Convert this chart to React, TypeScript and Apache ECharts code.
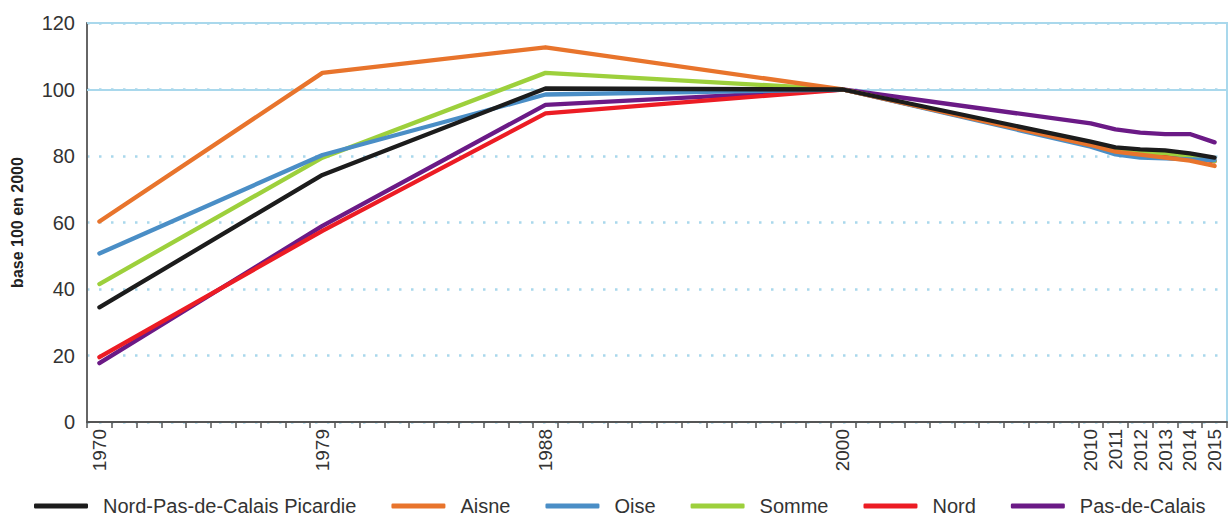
import React, { useEffect, useRef } from "react";
import * as echarts from "echarts";

const FIRST_YEAR = 1970;
const LAST_YEAR = 2015;
const labelYears = ["1970", "1979", "1988", "2000", "2010", "2011", "2012", "2013", "2014", "2015"];
const years = [1970, 1979, 1988, 2000, 2010, 2011, 2012, 2013, 2014, 2015];

const seriesNames = ["Nord-Pas-de-Calais Picardie", "Aisne", "Oise", "Somme", "Nord", "Pas-de-Calais"];
const seriesColors = ["#1c1c1c", "#e8742c", "#4a8ec6", "#9dd03c", "#ec1c24", "#6b1a86"];

const npdcp = [34.5, 74.3, 100.3, 100, 84.3, 82.6, 82, 81.7, 80.8, 79.5];
const aisne = [60.3, 105, 112.7, 100, 83.3, 81.3, 80.4, 79.5, 78.6, 77];
const oise = [50.7, 80.3, 98.5, 100, 82.8, 80.5, 79.5, 79.3, 79, 78.8];
const somme = [41.5, 79.5, 105, 100, 83.6, 81.6, 81, 80.9, 80, 78.5];
const nord = [19.5, 57.5, 92.8, 100, 83.4, 81.4, 80.6, 80.2, 79.6, 78.4];
const pasDeCalais = [17.7, 59, 95.4, 100, 89.8, 88, 87, 86.6, 86.6, 84.1];

const seriesValues = [npdcp, aisne, oise, somme, nord, pasDeCalais];

const yTicks = { min: 0, max: 120, interval: 20 };
const solidGridValues = [100, 120];

const FONT = "'Liberation Sans', Arial, Helvetica, sans-serif";

export default function App() {
  const ref = useRef<HTMLDivElement>(null);

  useEffect(() => {
    if (!ref.current) return;
    const chart = echarts.init(ref.current, undefined, { renderer: "svg" });
    const categories: string[] = [];
    for (let y = FIRST_YEAR; y <= LAST_YEAR; y++) categories.push(String(y));

    const series = seriesNames.map((name, i) => ({
      name,
      type: "line",
      data: years.map((yr, j) => [String(yr), seriesValues[i][j]]),
      showSymbol: false,
      symbol: "none",
      lineStyle: { width: 4.3, color: seriesColors[i], cap: "round", join: "round" },
      itemStyle: { color: seriesColors[i] },
      z: 10 - i,
      silent: true,
      markLine:
        i === 0
          ? {
              silent: true,
              symbol: ["none", "none"],
              label: { show: false },
              lineStyle: { color: "#a9d8ec", width: 2, type: "solid" },
              data: solidGridValues.map((v) => ({ yAxis: v })),
              z: 1,
            }
          : undefined,
    }));

    chart.setOption({
      animation: false,
      textStyle: { fontFamily: FONT },
      grid: {
        left: 87,
        right: 3,
        top: 23,
        bottom: 100,
        show: true,
        borderColor: "#a9d8ec",
        borderWidth: 2,
        backgroundColor: "transparent",
      },
      legend: {
        left: 34,
        top: 496,
        width: 1190,
        padding: 0,
        icon: "roundRect",
        itemWidth: 54,
        itemHeight: 5,
        itemGap: 35,
        data: seriesNames,
        textStyle: { fontSize: 20, color: "#333", fontFamily: FONT, padding: [0, 0, 0, 10] },
      },
      xAxis: {
        type: "category",
        data: categories,
        boundaryGap: true,
        axisLine: { show: true, lineStyle: { color: "#555", width: 2 } },
        axisTick: { show: true, interval: 0, length: 6, lineStyle: { color: "#555", width: 1.5 } },
        axisLabel: {
          rotate: 90,
          interval: (_idx: number, value: string) => labelYears.includes(value),
          fontSize: 19,
          color: "#333",
          fontFamily: FONT,
          margin: 7,
        },
        splitLine: { show: false },
      },
      yAxis: {
        type: "value",
        min: yTicks.min,
        max: yTicks.max,
        interval: yTicks.interval,
        name: "base 100 en 2000",
        nameLocation: "middle",
        nameGap: 62,
        nameTextStyle: { fontSize: 16, fontWeight: 600, color: "#222", fontFamily: FONT },
        axisLine: { show: true, lineStyle: { color: "#666", width: 2 } },
        axisTick: { show: false },
        axisLabel: { fontSize: 20, color: "#333", fontFamily: FONT, margin: 12 },
        splitLine: { show: true, lineStyle: { color: "#a9d8ec", width: 2.5, type: [2.5, 9.5] } },
      },
      series,
    });
    return () => chart.dispose();
  }, []);

  return <div ref={ref} style={{ width: 1230, height: 522, position: "absolute", left: 0, top: 0 }} />;
}
